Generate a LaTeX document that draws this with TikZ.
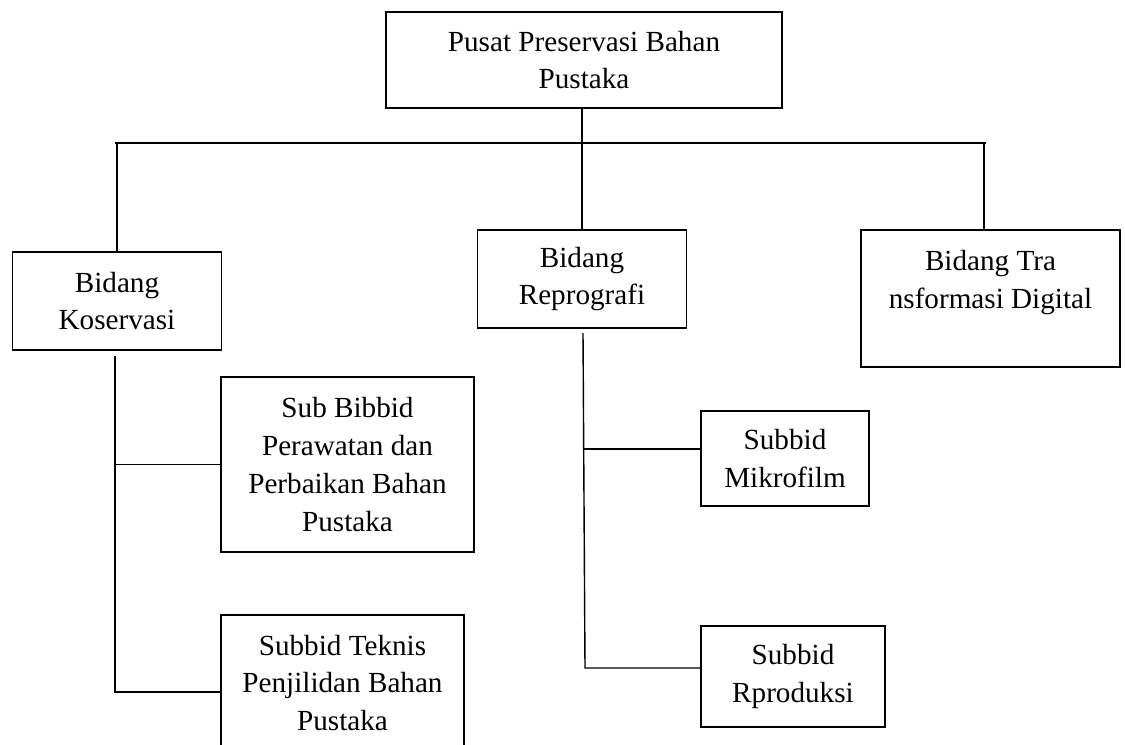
\documentclass[tikz,border=0pt]{standalone}
\usepackage{fontspec}
\setmainfont{Liberation Serif}
\begin{document}
\begin{tikzpicture}[x=0.02cm,y=-0.02cm,line width=0.8pt,
  unit/.style={draw=black,align=center,inner sep=0pt,font=\fontsize{16.6}{21.6}\selectfont}]
\useasboundingbox (0,0) rectangle (1125,744);
\node[unit,minimum width=7.92cm,minimum height=1.92cm] (pusat) at (584,60) {Pusat Preservasi Bahan\\Pustaka};
\node[unit,minimum width=4.17cm,minimum height=1.96cm] (kons) at (117,301) {Bidang\\Koservasi};
\node[unit,minimum width=4.18cm,minimum height=1.96cm] (repro) at (582,279) {Bidang\\Reprografi};
\node[unit,minimum width=5.18cm,minimum height=2.74cm] (trans) at (990.5,298.5) {Bidang Tra\\nsformasi Digital\\~};
\node[unit,minimum width=5.06cm,minimum height=3.50cm] (rawat) at (347.5,464.5) {Sub Bibbid\\Perawatan dan\\Perbaikan Bahan\\Pustaka};
\node[unit,minimum width=4.86cm,minimum height=2.72cm] (jilid) at (342.5,683) {Subbid Teknis\\Penjilidan Bahan\\Pustaka};
\node[unit,minimum width=3.36cm,minimum height=1.90cm] (mikro) at (785,458.5) {Subbid\\Mikrofilm};
\node[unit,minimum width=3.68cm,minimum height=2.02cm] (prod) at (793,676.5) {Subbid\\Rproduksi};
\coordinate (busL) at (115,143);
\coordinate (busR) at (986,143);
\coordinate (busT) at (984,143);
\coordinate (konsTop) at (115,356);
\coordinate (konsBot) at (115,692);
\coordinate (reproTop) at (583,333);
\coordinate (reproMid) at (584,449);
\coordinate (reproBot) at (585,668);
\draw (pusat.south -| repro.north) -- (repro.north);
\draw (busL) -- (busR);
\draw (kons.north |- busL) -- (kons.north);
\draw (busT) -- (busT |- trans.north);
\draw (konsTop) -- (konsBot) -- (konsBot -| jilid.west);
\draw (konsTop |- rawat.west) -- (rawat.west);
\draw (reproTop) -- (reproBot) -- (reproBot -| prod.west);
\draw (reproMid) -- (reproMid -| mikro.west);
\end{tikzpicture}
\end{document}
